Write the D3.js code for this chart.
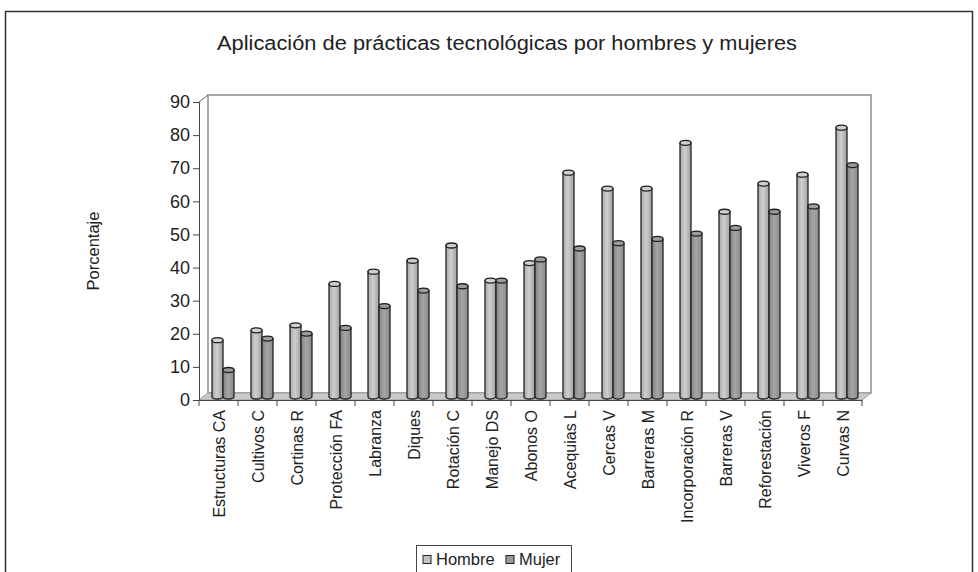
<!DOCTYPE html>
<html><head><meta charset="utf-8">
<script src="https://cdn.jsdelivr.net/npm/d3@7"></script>
<style>body{margin:0;background:#fff}svg{display:block}text{font-family:"Liberation Sans",Arial,sans-serif;fill:#222}</style>
</head><body>
<script>
const categories = ["Estructuras CA","Cultivos C","Cortinas R","Protección FA","Labranza","Diques","Rotación C","Manejo DS","Abonos O","Acequias L","Cercas V","Barreras M","Incorporación R","Barreras V","Reforestación","Viveros F","Curvas N"];
const hombre = [17, 20, 21.5, 34, 37.7, 41, 45.6, 35, 40.3, 67.6, 62.8, 62.8, 76.6, 55.8, 64.3, 67, 81.2];
const mujer  = [8, 17.5, 19, 20.7, 27.3, 32, 33.3, 35, 41.4, 44.7, 46.3, 47.6, 49.2, 50.9, 55.8, 57.4, 69.9];
const yTicks = [0,10,20,30,40,50,60,70,80,90];
const seriesNames = ["Hombre","Mujer"];

const W = 978, H = 572;
const svg = d3.select("body").append("svg").attr("width", W).attr("height", H);
const defs = svg.append("defs");
function grad(id, c0, c1, c2){
  const g = defs.append("linearGradient").attr("id", id).attr("x1","0").attr("x2","1").attr("y1","0").attr("y2","0");
  g.append("stop").attr("offset","0").attr("stop-color", c0);
  g.append("stop").attr("offset","0.45").attr("stop-color", c1);
  g.append("stop").attr("offset","1").attr("stop-color", c2);
}
grad("gH", "#a8a8a8", "#cfcfcf", "#a0a0a0");
grad("gM", "#808080", "#a6a6a6", "#8a8a8a");
const fills = {Hombre:"url(#gH)", Mujer:"url(#gM)"};
const topFill = {Hombre:"#d0d0d0", Mujer:"#9c9c9c"};
const legendFill = {Hombre:"#c4c4c4", Mujer:"#999999"};

// outer border
svg.append("rect").attr("x",5.5).attr("y",11.5).attr("width",967).attr("height",580)
  .attr("fill","none").attr("stroke","#333").attr("stroke-width",1.5);

// title
svg.append("text").attr("x",507).attr("y",50).attr("text-anchor","middle")
  .attr("textLength",580).attr("lengthAdjust","spacingAndGlyphs")
  .style("font-size","19.5px").text("Aplicación de prácticas tecnológicas por hombres y mujeres");

const x0 = 199, x1 = 862;
const dx = 9, dy = -7;
const x = d3.scaleBand().domain(categories).range([x0, x1]);
const y = d3.scaleLinear().domain([0, 90]).range([400, 102]);

// back wall
svg.append("rect").attr("x", x0+dx).attr("y", y(90)+dy).attr("width", x1-x0).attr("height", y(0)-y(90))
  .attr("fill","#fff").attr("stroke","#aaa").attr("stroke-width",2);
// floor
svg.append("polygon")
  .attr("points", [[x0,y(0)],[x1,y(0)],[x1+dx,y(0)+dy],[x0+dx,y(0)+dy]].map(p=>p.join(",")).join(" "))
  .attr("fill","#c9c9c9").attr("stroke","#999").attr("stroke-width",1);
svg.append("line").attr("x1",x0).attr("y1",y(90)).attr("x2",x0+dx).attr("y2",y(90)+dy).attr("stroke","#666");

// y axis
const yAxis = d3.axisLeft(y).tickValues(yTicks).tickSize(6).tickPadding(3);
const ya = svg.append("g").attr("transform",`translate(${x0},0)`).call(yAxis);
ya.select(".domain").attr("stroke","#444");
ya.selectAll(".tick line").attr("stroke","#444");
ya.selectAll("text").style("font-size","18px").attr("fill","#222").style("font-family","'Liberation Sans',Arial,sans-serif");

// x axis
const xa = svg.append("g").attr("transform",`translate(0,${y(0)})`)
  .call(d3.axisBottom(x).tickSize(0).tickFormat(""));
xa.select(".domain").attr("stroke","#444");
const tickPos = categories.map(c => x(c)).concat([x1]);
svg.selectAll(".ctick").data(tickPos).join("line")
  .attr("x1",d=>d).attr("x2",d=>d).attr("y1",y(0)).attr("y2",y(0)+6).attr("stroke","#444");
svg.selectAll(".clab").data(categories).join("text")
  .attr("transform", d => `translate(${x(d)+x.bandwidth()/2+6},410) rotate(-90)`)
  .attr("text-anchor","end").style("font-size","16px").text(d=>d);

// bars (cylinders)
const bw = 11, bdy = -3.5, ry = 2.5;
const barData = [];
categories.forEach((c,i)=>{
  barData.push({c, s:"Hombre", v:hombre[i], xs: x(c)+13});
  barData.push({c, s:"Mujer", v:mujer[i], xs: x(c)+24});
});
const bars = svg.append("g").selectAll("g").data(barData).join("g");
bars.append("path").attr("d", d=>{
  const xl = d.xs, xr = d.xs + bw, yt = y(d.v)+bdy, yb = y(0)+bdy;
  return `M${xl},${yt} L${xl},${yb} A${bw/2},${ry} 0 0 0 ${xr},${yb} L${xr},${yt} Z`;
}).attr("fill", d=>fills[d.s]).attr("stroke","#222").attr("stroke-width",1.3);
bars.append("ellipse").attr("cx", d=>d.xs+bw/2).attr("cy", d=>y(d.v)+bdy)
  .attr("rx", bw/2).attr("ry", ry).attr("fill", d=>topFill[d.s]).attr("stroke","#222").attr("stroke-width",1.3);

// y axis title
svg.append("text").attr("transform","translate(99,251) rotate(-90)").attr("text-anchor","middle")
  .style("font-size","16.5px").text("Porcentaje");

// legend
const lg = svg.append("g");
lg.append("rect").attr("x",416.5).attr("y",545.5).attr("width",155).attr("height",40)
  .attr("fill","#fff").attr("stroke","#444");
const lx = [423, 506];
seriesNames.forEach((s,i)=>{
  lg.append("rect").attr("x",lx[i]).attr("y",555.5).attr("width",8).attr("height",8)
    .attr("fill",legendFill[s]).attr("stroke","#222");
  lg.append("text").attr("x",lx[i]+13).attr("y",565).style("font-size","16.5px").text(s);
});
</script>
</body></html>
